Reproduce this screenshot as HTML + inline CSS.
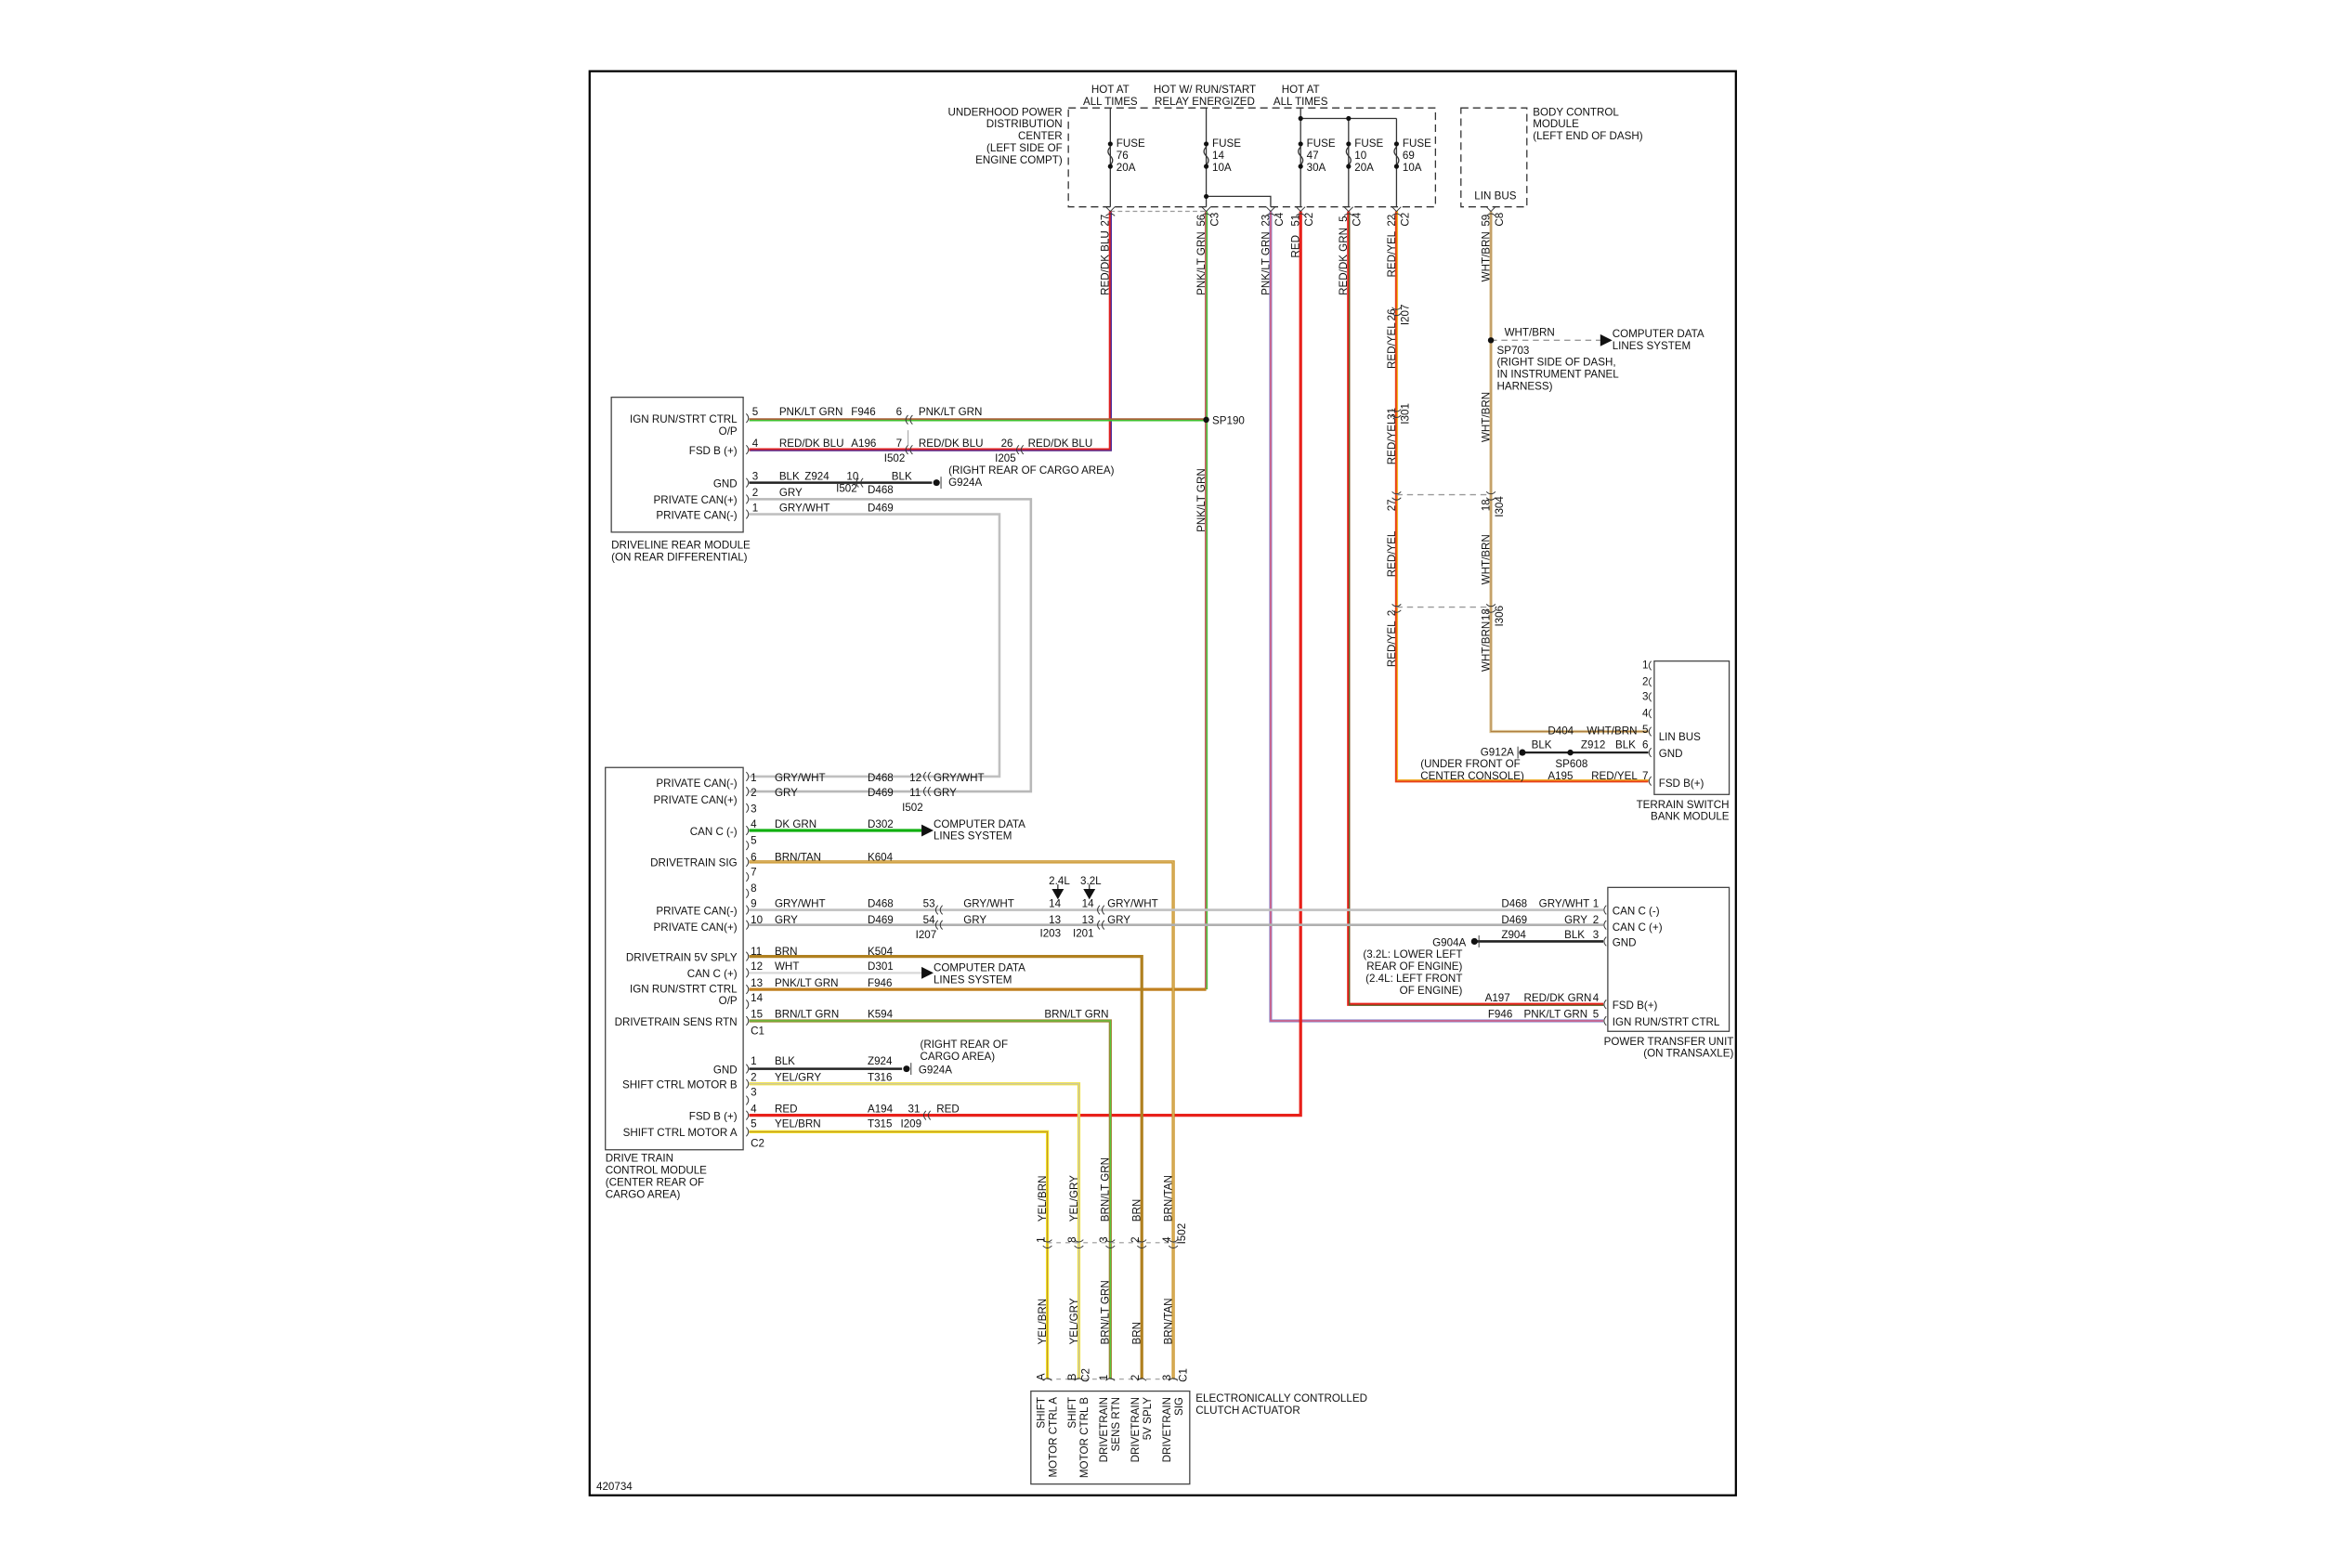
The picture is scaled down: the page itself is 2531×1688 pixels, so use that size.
<!DOCTYPE html>
<html><head><meta charset="utf-8"><style>
html,body{margin:0;padding:0;background:#fff;}
svg{display:block;}
text{font-family:"Liberation Sans",sans-serif;font-size:7.2px;fill:#111;}
.r{text-anchor:end;}
.m{text-anchor:middle;}
</style></head><body>
<svg width="2531" height="1688" viewBox="0 0 1569 1046" preserveAspectRatio="none" xmlns="http://www.w3.org/2000/svg">
<rect width="1569" height="1046" fill="#fff"/>
<rect x="393.5" y="47.5" width="765" height="950" fill="none" stroke="#000" stroke-width="1.4"/>

<!-- UPDC -->
<rect x="713" y="72" width="245" height="66" fill="none" stroke="#333" stroke-width="0.8" stroke-dasharray="5,3"/>
<text class="r" x="709" y="77">UNDERHOOD POWER</text>
<text class="r" x="709" y="85">DISTRIBUTION</text>
<text class="r" x="709" y="93">CENTER</text>
<text class="r" x="709" y="101">(LEFT SIDE OF</text>
<text class="r" x="709" y="109">ENGINE COMPT)</text>
<text class="m" x="741" y="62">HOT AT</text><text class="m" x="741" y="70">ALL TIMES</text>
<text class="m" x="804" y="62">HOT W/ RUN/START</text><text class="m" x="804" y="70">RELAY ENERGIZED</text>
<text class="m" x="868" y="62">HOT AT</text><text class="m" x="868" y="70">ALL TIMES</text>
<g stroke="#333" stroke-width="0.8" fill="none">
<line x1="741" y1="72" x2="741" y2="138"/><line x1="805" y1="72" x2="805" y2="138"/>
<line x1="868" y1="72" x2="868" y2="138"/><line x1="900" y1="79" x2="900" y2="138"/><line x1="932" y1="79" x2="932" y2="138"/>
<line x1="868" y1="79" x2="932" y2="79"/>
<polyline points="805,131 848,131 848,138"/>
<path d="M741,98 q-3,3 0,6 q3,3 0,6" /><path d="M805,98 q-3,3 0,6 q3,3 0,6"/><path d="M868,98 q-3,3 0,6 q3,3 0,6"/><path d="M900,98 q-3,3 0,6 q3,3 0,6"/><path d="M932,98 q-3,3 0,6 q3,3 0,6"/>
<line x1="741" y1="141" x2="805" y2="141" stroke-dasharray="3,2" stroke="#999"/>
</g>
<g fill="#111">
<circle cx="741" cy="96" r="1.6"/><circle cx="741" cy="111" r="1.6"/>
<circle cx="805" cy="96" r="1.6"/><circle cx="805" cy="111" r="1.6"/>
<circle cx="868" cy="96" r="1.6"/><circle cx="868" cy="111" r="1.6"/>
<circle cx="900" cy="96" r="1.6"/><circle cx="900" cy="111" r="1.6"/>
<circle cx="932" cy="96" r="1.6"/><circle cx="932" cy="111" r="1.6"/>
<circle cx="868" cy="79" r="1.6"/><circle cx="900" cy="79" r="1.6"/><circle cx="805" cy="131" r="1.6"/>
</g>
<text x="745" y="98">FUSE</text><text x="745" y="106">76</text><text x="745" y="114">20A</text>
<text x="809" y="98">FUSE</text><text x="809" y="106">14</text><text x="809" y="114">10A</text>
<text x="872" y="98">FUSE</text><text x="872" y="106">47</text><text x="872" y="114">30A</text>
<text x="904" y="98">FUSE</text><text x="904" y="106">10</text><text x="904" y="114">20A</text>
<text x="936" y="98">FUSE</text><text x="936" y="106">69</text><text x="936" y="114">10A</text>

<!-- BCM -->
<rect x="975" y="72" width="44" height="66" fill="none" stroke="#333" stroke-width="0.8" stroke-dasharray="5,3"/>
<text class="m" x="998" y="133">LIN BUS</text>
<text x="1023" y="77">BODY CONTROL</text><text x="1023" y="85">MODULE</text><text x="1023" y="93">(LEFT END OF DASH)</text>

<g>
<text transform="translate(740,151) rotate(-90)">27</text>
<text transform="translate(804,151) rotate(-90)">56</text><text transform="translate(813,151) rotate(-90)">C3</text>
<text transform="translate(847,151) rotate(-90)">23</text><text transform="translate(856,151) rotate(-90)">C4</text>
<text transform="translate(867,151) rotate(-90)">51</text><text transform="translate(876,151) rotate(-90)">C2</text>
<text transform="translate(899,148) rotate(-90)">5</text><text transform="translate(908,151) rotate(-90)">C4</text>
<text transform="translate(931,151) rotate(-90)">22</text><text transform="translate(940,151) rotate(-90)">C2</text>
<text transform="translate(994,151) rotate(-90)">59</text><text transform="translate(1003,151) rotate(-90)">C8</text>
<text transform="translate(740,197) rotate(-90)">RED/DK BLU</text>
<text transform="translate(804,197) rotate(-90)">PNK/LT GRN</text>
<text transform="translate(847,197) rotate(-90)">PNK/LT GRN</text>
<text transform="translate(867,172) rotate(-90)">RED</text>
<text transform="translate(899,197) rotate(-90)">RED/DK GRN</text>
<text transform="translate(931,185) rotate(-90)">RED/YEL</text>
<text transform="translate(994,188) rotate(-90)">WHT/BRN</text>
<text transform="translate(804,355) rotate(-90)">PNK/LT GRN</text>
<text transform="translate(931,246) rotate(-90)">RED/YEL</text>
<text transform="translate(940,217) rotate(-90)">I207</text><text transform="translate(931,214) rotate(-90)">26</text>
<text transform="translate(931,310) rotate(-90)">RED/YEL</text>
<text transform="translate(931,280) rotate(-90)">31</text><text transform="translate(940,283) rotate(-90)">I301</text>
<text transform="translate(931,341) rotate(-90)">27</text>
<text transform="translate(931,385) rotate(-90)">RED/YEL</text>
<text transform="translate(931,411) rotate(-90)">2</text>
<text transform="translate(931,445) rotate(-90)">RED/YEL</text>
<text transform="translate(994,295) rotate(-90)">WHT/BRN</text>
<text transform="translate(994,341) rotate(-90)">18</text><text transform="translate(1003,345) rotate(-90)">I304</text>
<text transform="translate(994,390) rotate(-90)">WHT/BRN</text>
<text transform="translate(994,414) rotate(-90)">18</text><text transform="translate(1003,418) rotate(-90)">I306</text>
<text transform="translate(994,448) rotate(-90)">WHT/BRN</text>
</g>

<g fill="none" stroke-linejoin="miter">
<polyline points="741,141 741,300 500,300" stroke="#e02020" stroke-width="2"/>
<polyline points="741,141 741,300 500,300" stroke="#3030b0" stroke-width="0.7" transform="translate(0.6,0.6)"/>
<line x1="805" y1="280" x2="500" y2="280" stroke="#40c030" stroke-width="2"/>
<line x1="805" y1="279.5" x2="500" y2="279.5" stroke="#e03040" stroke-width="0.7"/>
<polyline points="805,141 805,660" stroke="#50c040" stroke-width="2"/>
<polyline points="805,141 805,660" stroke="#e05070" stroke-width="0.8" transform="translate(-0.5,0)"/>
<line x1="805" y1="660" x2="500" y2="660" stroke="#c08020" stroke-width="2"/>
<polyline points="848,141 848,681 1070,681" stroke="#9090d0" stroke-width="2"/>
<polyline points="848,141 848,681 1070,681" stroke="#e05070" stroke-width="0.8"/>
<polyline points="868,141 868,744 500,744" stroke="#e8201a" stroke-width="2"/>
<polyline points="900,141 900,670 1070,670" stroke="#e8201a" stroke-width="2"/>
<polyline points="900,141 900,670 1070,670" stroke="#208030" stroke-width="0.6" transform="translate(0.6,0.6)"/>
<polyline points="932,141 932,521 1100,521" stroke="#e8401a" stroke-width="2"/>
<polyline points="932,141 932,521 1100,521" stroke="#f0c020" stroke-width="0.7" transform="translate(0.6,-0.6)"/>
<polyline points="995,141 995,488 1100,488" stroke="#d8c090" stroke-width="2"/>
<polyline points="995,141 995,488 1100,488" stroke="#b08040" stroke-width="0.6"/>
<line x1="995" y1="227" x2="1068" y2="227" stroke="#999" stroke-width="0.8" stroke-dasharray="4,3"/>
<line x1="932" y1="330" x2="995" y2="330" stroke="#999" stroke-width="0.8" stroke-dasharray="4,3"/>
<line x1="932" y1="405" x2="995" y2="405" stroke="#999" stroke-width="0.8" stroke-dasharray="4,3"/>
<line x1="500" y1="322" x2="622" y2="322" stroke="#222" stroke-width="1.6"/>
<polyline points="500,333 688,333 688,528 500,528" stroke="#b8b8b8" stroke-width="1.6"/>
<polyline points="500,343 667,343 667,518 500,518" stroke="#c0c0c0" stroke-width="1.6"/>
<line x1="500" y1="554" x2="615" y2="554" stroke="#10b010" stroke-width="2"/>
<polyline points="500,575 783,575 783,920" stroke="#c89020" stroke-width="2"/>
<polyline points="500,575 783,575 783,920" stroke="#e0c080" stroke-width="0.6"/>
<line x1="500" y1="607" x2="1070" y2="607" stroke="#c0c0c0" stroke-width="1.6"/>
<line x1="500" y1="617" x2="1070" y2="617" stroke="#b0b0b0" stroke-width="1.6"/>
<line x1="985" y1="628" x2="1070" y2="628" stroke="#222" stroke-width="1.6"/>
<polyline points="500,638 762,638 762,920" stroke="#b08020" stroke-width="2"/>
<line x1="500" y1="649" x2="615" y2="649" stroke="#d8d8d8" stroke-width="1.4"/>
<polyline points="500,681 741,681 741,920" stroke="#a08030" stroke-width="2"/>
<polyline points="500,681 741,681 741,920" stroke="#50d040" stroke-width="0.7"/>
<line x1="500" y1="713" x2="602" y2="713" stroke="#222" stroke-width="1.6"/>
<polyline points="500,723 720,723 720,920" stroke="#f0e040" stroke-width="2"/>
<polyline points="500,723 720,723 720,920" stroke="#c0c0c0" stroke-width="0.6"/>
<polyline points="500,755 699,755 699,920" stroke="#f0e020" stroke-width="2"/>
<polyline points="500,755 699,755 699,920" stroke="#c09030" stroke-width="0.6"/>
<line x1="1015" y1="502" x2="1100" y2="502" stroke="#222" stroke-width="1.4"/>
<line x1="699" y1="829" x2="790" y2="829" stroke="#999" stroke-width="0.7" stroke-dasharray="3,3"/>
<line x1="699" y1="920" x2="790" y2="920" stroke="#999" stroke-width="0.7" stroke-dasharray="3,3"/>
<line x1="606" y1="287" x2="606" y2="297" stroke="#aaa" stroke-width="0.7"/>
</g>

<g fill="#111">
<circle cx="805" cy="280" r="2"/><circle cx="995" cy="227" r="2"/><circle cx="1048" cy="502" r="2"/>
<polygon points="1068,223 1076,227 1068,231"/>
<polygon points="615,550 623,554 615,558"/>
<polygon points="615,645 623,649 615,653"/>
<polygon points="702,593 706,600 710,593"/><polygon points="723,593 727,600 731,593"/>
<circle cx="625" cy="322" r="2.2"/><circle cx="605" cy="713" r="2.2"/><circle cx="984" cy="628" r="2.2"/><circle cx="1016" cy="502" r="2.2"/>
</g>
<line x1="706" y1="590" x2="706" y2="596" stroke="#111" stroke-width="0.7"/>
<line x1="727" y1="590" x2="727" y2="596" stroke="#111" stroke-width="0.7"/>

<g fill="none" stroke="#333" stroke-width="0.6">
<path d="M738,138 l3,3 l3,-3 M802,138 l3,3 l3,-3 M845,138 l3,3 l3,-3 M865,138 l3,3 l3,-3 M897,138 l3,3 l3,-3 M929,138 l3,3 l3,-3 M992,138 l3,3 l3,-3"/>
<path d="M738,144 q3,-3 6,0 M802,144 q3,-3 6,0 M845,144 q3,-3 6,0 M865,144 q3,-3 6,0 M897,144 q3,-3 6,0 M929,144 q3,-3 6,0 M992,144 q3,-3 6,0"/>
<path d="M929,205 q3,3 6,0 M929,209 q3,3 6,0 M929,273 q3,3 6,0 M929,277 q3,3 6,0 M929,328 q3,3 6,0 M929,332 q3,3 6,0 M929,403 q3,3 6,0 M929,407 q3,3 6,0"/>
<path d="M992,328 q3,3 6,0 M992,332 q3,3 6,0 M992,403 q3,3 6,0 M992,407 q3,3 6,0"/>
<path d="M696,827 q3,3 6,0 M696,831 q3,3 6,0 M717,827 q3,3 6,0 M717,831 q3,3 6,0 M738,827 q3,3 6,0 M738,831 q3,3 6,0 M759,827 q3,3 6,0 M759,831 q3,3 6,0 M780,827 q3,3 6,0 M780,831 q3,3 6,0"/>
<path d="M696,921 q3,-3 6,0 M717,921 q3,-3 6,0 M738,921 q3,-3 6,0 M759,921 q3,-3 6,0 M780,921 q3,-3 6,0"/>
<path d="M606,277 q-3,3 0,6 M609,277 q-3,3 0,6 M606,297 q-3,3 0,6 M609,297 q-3,3 0,6 M680,297 q-3,3 0,6 M683,297 q-3,3 0,6 M573,319 q-3,3 0,6 M576,319 q-3,3 0,6"/>
<path d="M618,515 q-3,3 0,6 M621,515 q-3,3 0,6 M618,525 q-3,3 0,6 M621,525 q-3,3 0,6 M626,604 q-3,3 0,6 M629,604 q-3,3 0,6 M626,614 q-3,3 0,6 M629,614 q-3,3 0,6 M734,604 q-3,3 0,6 M737,604 q-3,3 0,6 M734,614 q-3,3 0,6 M737,614 q-3,3 0,6 M618,741 q-3,3 0,6 M621,741 q-3,3 0,6"/>
<path d="M498,276 q3,3 0,6 M498,297 q3,3 0,6 M498,319 q3,3 0,6 M498,330 q3,3 0,6 M498,340 q3,3 0,6"/>
<path d="M498,515 q3,3 0,6 M498,525 q3,3 0,6 M498,536 q3,3 0,6 M498,551 q3,3 0,6 M498,561 q3,3 0,6 M498,572 q3,3 0,6 M498,582 q3,3 0,6 M498,593 q3,3 0,6 M498,604 q3,3 0,6 M498,614 q3,3 0,6 M498,635 q3,3 0,6 M498,646 q3,3 0,6 M498,657 q3,3 0,6 M498,667 q3,3 0,6 M498,678 q3,3 0,6 M498,710 q3,3 0,6 M498,720 q3,3 0,6 M498,731 q3,3 0,6 M498,741 q3,3 0,6 M498,752 q3,3 0,6"/>
<path d="M1102,441 q-3,3 0,6 M1102,452 q-3,3 0,6 M1102,462 q-3,3 0,6 M1102,473 q-3,3 0,6 M1102,485 q-3,3 0,6 M1102,499 q-3,3 0,6 M1102,518 q-3,3 0,6"/>
<path d="M1072,604 q-3,3 0,6 M1072,614 q-3,3 0,6 M1072,625 q-3,3 0,6 M1072,667 q-3,3 0,6 M1072,678 q-3,3 0,6"/>
<line x1="628" y1="318" x2="628" y2="326"/><line x1="608" y1="709" x2="608" y2="717"/><line x1="987" y1="624" x2="987" y2="632"/><line x1="1013" y1="498" x2="1013" y2="506"/>
</g>

<rect x="408" y="265" width="88" height="90" fill="none" stroke="#444" stroke-width="0.8"/>
<text class="r" x="492" y="282">IGN RUN/STRT CTRL</text><text class="r" x="492" y="290">O/P</text>
<text class="r" x="492" y="303">FSD B (+)</text>
<text class="r" x="492" y="325">GND</text>
<text class="r" x="492" y="336">PRIVATE CAN(+)</text>
<text class="r" x="492" y="346">PRIVATE CAN(-)</text>
<text x="408" y="366">DRIVELINE REAR MODULE</text><text x="408" y="374">(ON REAR DIFFERENTIAL)</text>
<text x="502" y="277">5</text><text x="520" y="277">PNK/LT GRN</text><text x="568" y="277">F946</text><text x="598" y="277">6</text><text x="613" y="277">PNK/LT GRN</text><text x="809" y="283">SP190</text>
<text x="502" y="298">4</text><text x="520" y="298">RED/DK BLU</text><text x="568" y="298">A196</text><text x="598" y="298">7</text><text x="613" y="298">RED/DK BLU</text><text x="590" y="308">I502</text><text x="668" y="298">26</text><text x="686" y="298">RED/DK BLU</text><text x="664" y="308">I205</text>
<text x="633" y="316">(RIGHT REAR OF CARGO AREA)</text>
<text x="502" y="320">3</text><text x="520" y="320">BLK</text><text x="537" y="320">Z924</text><text x="565" y="320">10</text><text x="595" y="320">BLK</text><text x="558" y="328">I502</text><text x="579" y="329">D468</text><text x="633" y="324">G924A</text>
<text x="502" y="331">2</text><text x="520" y="331">GRY</text>
<text x="502" y="341">1</text><text x="520" y="341">GRY/WHT</text><text x="579" y="341">D469</text>

<text x="1004" y="224">WHT/BRN</text>
<text x="1076" y="225">COMPUTER DATA</text><text x="1076" y="233">LINES SYSTEM</text>
<text x="999" y="236">SP703</text><text x="999" y="244">(RIGHT SIDE OF DASH,</text><text x="999" y="252">IN INSTRUMENT PANEL</text><text x="999" y="260">HARNESS)</text>

<rect x="1104" y="441" width="50" height="89" fill="none" stroke="#444" stroke-width="0.8"/>
<text class="r" x="1100" y="446">1</text><text class="r" x="1100" y="457">2</text><text class="r" x="1100" y="467">3</text><text class="r" x="1100" y="478">4</text><text class="r" x="1100" y="489">5</text><text class="r" x="1100" y="499">6</text><text class="r" x="1100" y="520">7</text>
<text x="1107" y="494">LIN BUS</text><text x="1107" y="505">GND</text><text x="1107" y="525">FSD B(+)</text>
<text class="r" x="1154" y="539">TERRAIN SWITCH</text><text class="r" x="1154" y="547">BANK MODULE</text>
<text x="1033" y="490">D404</text><text x="1059" y="490">WHT/BRN</text>
<text x="1022" y="499">BLK</text><text x="1055" y="499">Z912</text><text x="1078" y="499">BLK</text>
<text x="988" y="504">G912A</text><text x="1038" y="512">SP608</text>
<text x="948" y="512">(UNDER FRONT OF</text><text x="948" y="520">CENTER CONSOLE)</text>
<text x="1033" y="520">A195</text><text x="1062" y="520">RED/YEL</text>

<rect x="404" y="512" width="92" height="255" fill="none" stroke="#444" stroke-width="0.8"/>
<text class="r" x="492" y="525">PRIVATE CAN(-)</text>
<text class="r" x="492" y="536">PRIVATE CAN(+)</text>
<text class="r" x="492" y="557">CAN C (-)</text>
<text class="r" x="492" y="578">DRIVETRAIN SIG</text>
<text class="r" x="492" y="610">PRIVATE CAN(-)</text>
<text class="r" x="492" y="621">PRIVATE CAN(+)</text>
<text class="r" x="492" y="641">DRIVETRAIN 5V SPLY</text>
<text class="r" x="492" y="652">CAN C (+)</text>
<text class="r" x="492" y="662">IGN RUN/STRT CTRL</text><text class="r" x="492" y="670">O/P</text>
<text class="r" x="492" y="684">DRIVETRAIN SENS RTN</text>
<text class="r" x="492" y="716">GND</text>
<text class="r" x="492" y="726">SHIFT CTRL MOTOR B</text>
<text class="r" x="492" y="747">FSD B (+)</text>
<text class="r" x="492" y="758">SHIFT CTRL MOTOR A</text>
<text x="404" y="775">DRIVE TRAIN</text><text x="404" y="783">CONTROL MODULE</text><text x="404" y="791">(CENTER REAR OF</text><text x="404" y="799">CARGO AREA)</text>
<g>
<text x="501" y="521">1</text><text x="517" y="521">GRY/WHT</text><text x="579" y="521">D468</text><text x="607" y="521">12</text><text x="623" y="521">GRY/WHT</text>
<text x="501" y="531">2</text><text x="517" y="531">GRY</text><text x="579" y="531">D469</text><text x="607" y="531">11</text><text x="623" y="531">GRY</text><text x="602" y="541">I502</text>
<text x="501" y="542">3</text>
<text x="501" y="552">4</text><text x="517" y="552">DK GRN</text><text x="579" y="552">D302</text><text x="623" y="552">COMPUTER DATA</text><text x="623" y="560">LINES SYSTEM</text>
<text x="501" y="563">5</text>
<text x="501" y="574">6</text><text x="517" y="574">BRN/TAN</text><text x="579" y="574">K604</text>
<text x="501" y="584">7</text><text x="501" y="595">8</text>
<text x="700" y="590">2.4L</text><text x="721" y="590">3.2L</text>
<text x="501" y="605">9</text><text x="517" y="605">GRY/WHT</text><text x="579" y="605">D468</text><text x="616" y="605">53</text><text x="643" y="605">GRY/WHT</text><text x="700" y="605">14</text><text x="722" y="605">14</text><text x="739" y="605">GRY/WHT</text>
<text x="1002" y="605">D468</text><text x="1027" y="605">GRY/WHT</text><text x="1063" y="605">1</text>
<text x="501" y="616">10</text><text x="517" y="616">GRY</text><text x="579" y="616">D469</text><text x="616" y="616">54</text><text x="643" y="616">GRY</text><text x="700" y="616">13</text><text x="722" y="616">13</text><text x="739" y="616">GRY</text>
<text x="1002" y="616">D469</text><text x="1044" y="616">GRY</text><text x="1063" y="616">2</text>
<text x="611" y="626">I207</text><text x="694" y="625">I203</text><text x="716" y="625">I201</text>
<text x="1002" y="626">Z904</text><text x="1044" y="626">BLK</text><text x="1063" y="626">3</text>
<text x="956" y="631">G904A</text>
<text class="r" x="976" y="639">(3.2L: LOWER LEFT</text><text class="r" x="976" y="647">REAR OF ENGINE)</text><text class="r" x="976" y="655">(2.4L: LEFT FRONT</text><text class="r" x="976" y="663">OF ENGINE)</text>
<text x="501" y="637">11</text><text x="517" y="637">BRN</text><text x="579" y="637">K504</text>
<text x="501" y="647">12</text><text x="517" y="647">WHT</text><text x="579" y="647">D301</text><text x="623" y="648">COMPUTER DATA</text><text x="623" y="656">LINES SYSTEM</text>
<text x="501" y="658">13</text><text x="517" y="658">PNK/LT GRN</text><text x="579" y="658">F946</text>
<text x="501" y="668">14</text>
<text x="991" y="668">A197</text><text x="1017" y="668">RED/DK GRN</text><text x="1063" y="668">4</text>
<text x="501" y="679">15</text><text x="517" y="679">BRN/LT GRN</text><text x="579" y="679">K594</text><text x="697" y="679">BRN/LT GRN</text>
<text x="993" y="679">F946</text><text x="1017" y="679">PNK/LT GRN</text><text x="1063" y="679">5</text>
<text x="501" y="690">C1</text>
<text x="614" y="699">(RIGHT REAR OF</text><text x="614" y="707">CARGO AREA)</text>
<text x="501" y="710">1</text><text x="517" y="710">BLK</text><text x="579" y="710">Z924</text><text x="613" y="716">G924A</text>
<text x="501" y="721">2</text><text x="517" y="721">YEL/GRY</text><text x="579" y="721">T316</text>
<text x="501" y="731">3</text>
<text x="501" y="742">4</text><text x="517" y="742">RED</text><text x="579" y="742">A194</text><text x="606" y="742">31</text><text x="625" y="742">RED</text><text x="601" y="752">I209</text>
<text x="501" y="752">5</text><text x="517" y="752">YEL/BRN</text><text x="579" y="752">T315</text>
<text x="501" y="765">C2</text>
</g>

<rect x="1073" y="592" width="81" height="96" fill="none" stroke="#444" stroke-width="0.8"/>
<text x="1076" y="610">CAN C (-)</text><text x="1076" y="621">CAN C (+)</text><text x="1076" y="631">GND</text>
<text x="1076" y="673">FSD B(+)</text><text x="1076" y="684">IGN RUN/STRT CTRL</text>
<text class="r" x="1157" y="697">POWER TRANSFER UNIT</text><text class="r" x="1157" y="705">(ON TRANSAXLE)</text>

<g>
<text transform="translate(698,815) rotate(-90)">YEL/BRN</text>
<text transform="translate(719,815) rotate(-90)">YEL/GRY</text>
<text transform="translate(740,815) rotate(-90)">BRN/LT GRN</text>
<text transform="translate(761,815) rotate(-90)">BRN</text>
<text transform="translate(782,815) rotate(-90)">BRN/TAN</text>
<text transform="translate(697,829) rotate(-90)">1</text><text transform="translate(718,829) rotate(-90)">8</text><text transform="translate(739,829) rotate(-90)">3</text><text transform="translate(760,829) rotate(-90)">2</text><text transform="translate(781,829) rotate(-90)">4</text><text transform="translate(791,830) rotate(-90)">I502</text>
<text transform="translate(698,897) rotate(-90)">YEL/BRN</text>
<text transform="translate(719,897) rotate(-90)">YEL/GRY</text>
<text transform="translate(740,897) rotate(-90)">BRN/LT GRN</text>
<text transform="translate(761,897) rotate(-90)">BRN</text>
<text transform="translate(782,897) rotate(-90)">BRN/TAN</text>
<text transform="translate(697,921) rotate(-90)">A</text><text transform="translate(718,921) rotate(-90)">B</text><text transform="translate(727,922) rotate(-90)">C2</text><text transform="translate(739,921) rotate(-90)">1</text><text transform="translate(760,921) rotate(-90)">2</text><text transform="translate(781,921) rotate(-90)">3</text><text transform="translate(792,922) rotate(-90)">C1</text>
</g>
<rect x="688" y="928" width="106" height="62" fill="none" stroke="#444" stroke-width="0.8"/>
<g>
<text class="r" transform="translate(697,932) rotate(-90)">SHIFT</text><text class="r" transform="translate(705,932) rotate(-90)">MOTOR CTRL A</text>
<text class="r" transform="translate(718,932) rotate(-90)">SHIFT</text><text class="r" transform="translate(726,932) rotate(-90)">MOTOR CTRL B</text>
<text class="r" transform="translate(739,932) rotate(-90)">DRIVETRAIN</text><text class="r" transform="translate(747,932) rotate(-90)">SENS RTN</text>
<text class="r" transform="translate(760,932) rotate(-90)">DRIVETRAIN</text><text class="r" transform="translate(768,932) rotate(-90)">5V SPLY</text>
<text class="r" transform="translate(781,932) rotate(-90)">DRIVETRAIN</text><text class="r" transform="translate(789,932) rotate(-90)">SIG</text>
</g>
<text x="798" y="935">ELECTRONICALLY CONTROLLED</text><text x="798" y="943">CLUTCH ACTUATOR</text>
<text x="398" y="994">420734</text>
</svg>
</body></html>
